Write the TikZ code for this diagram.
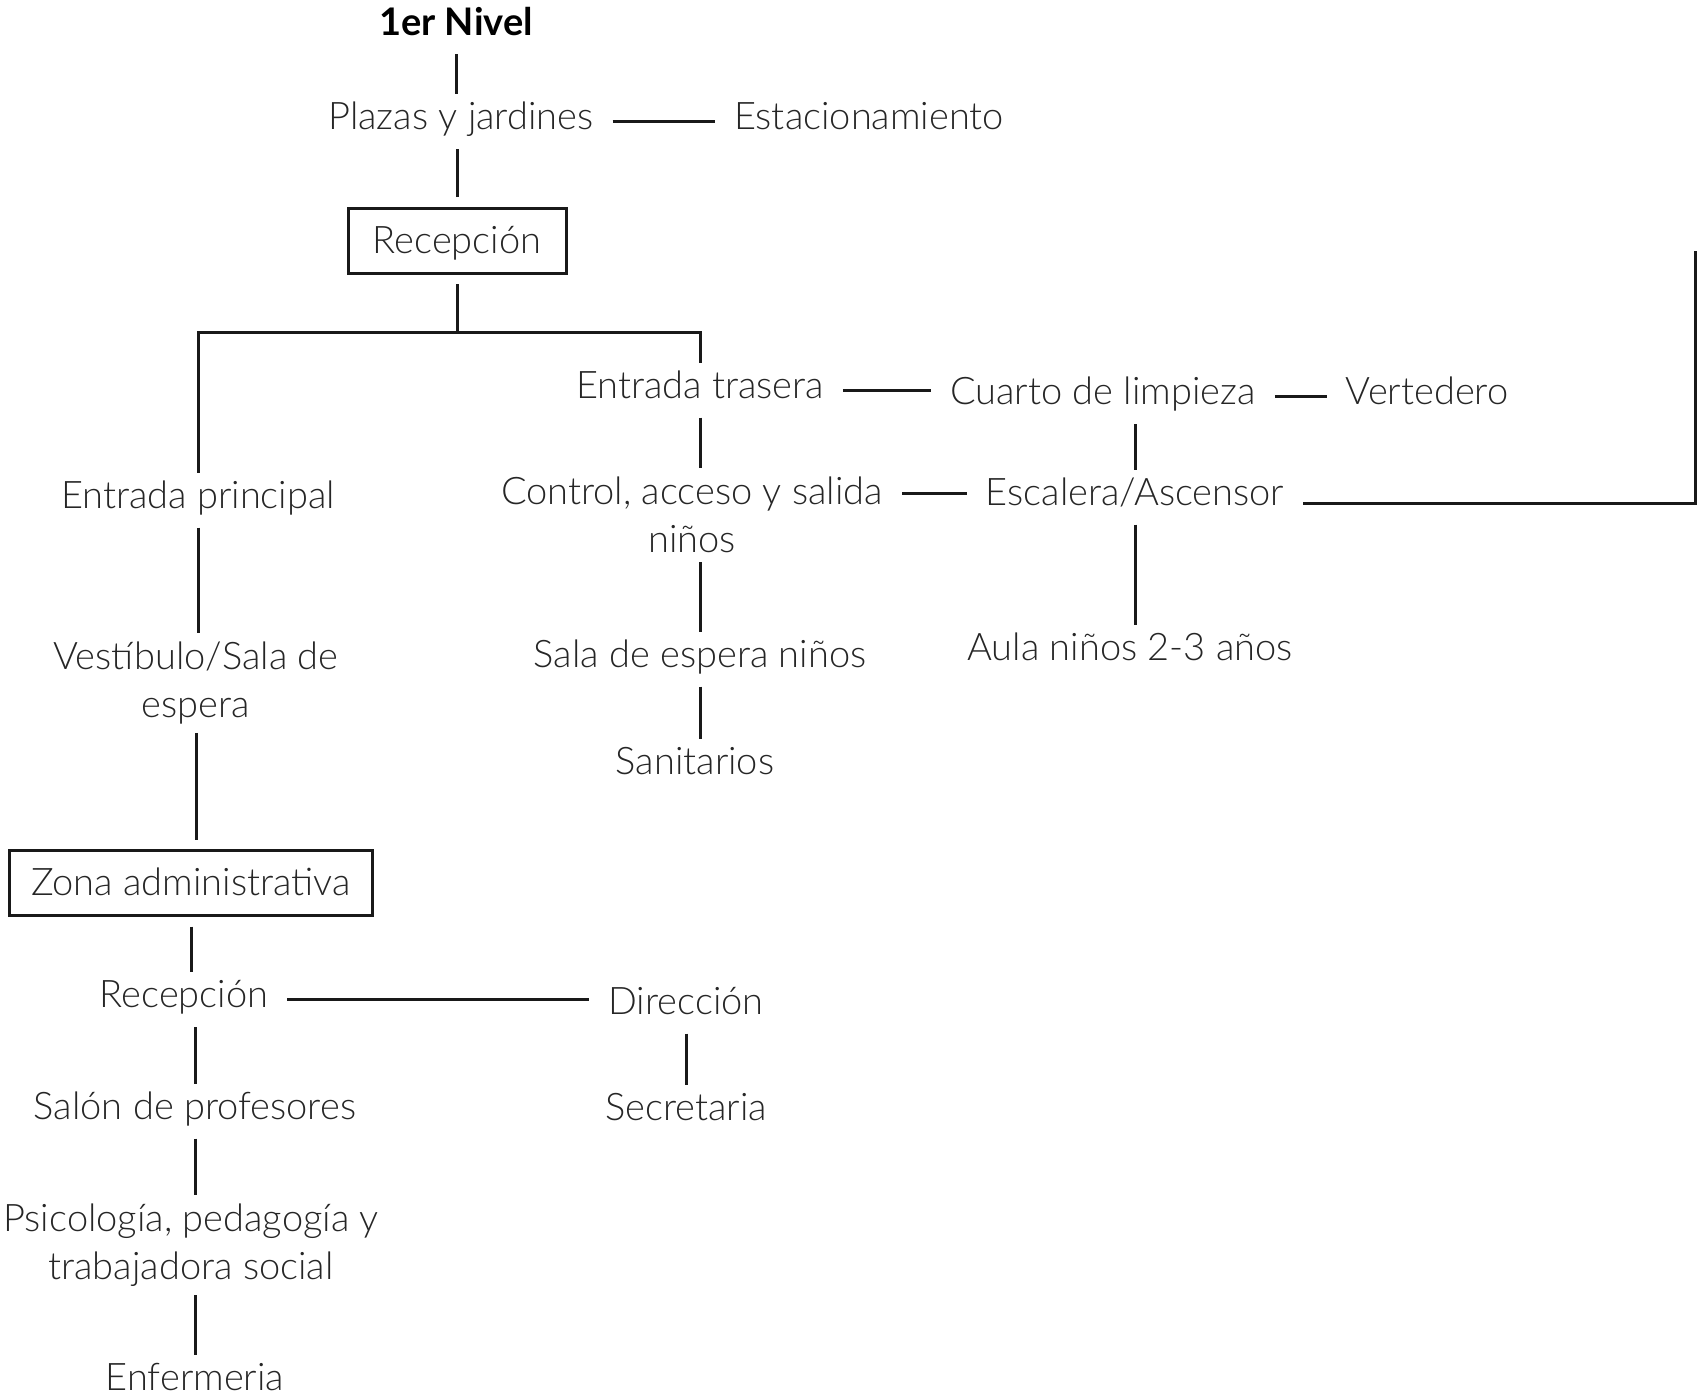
\documentclass[tikz,border=0pt]{standalone}
\usepackage{fontspec}
\setmainfont{Lato Light}
\newfontfamily\boldfont{Lato}
\begin{document}
\begin{tikzpicture}[x=1pt,y=-1pt,
  lbl/.style={inner sep=0pt, outer xsep=19pt, outer ysep=9pt,
    font=\fontsize{38}{47.5}\selectfont, text=black!85,
    text height=27pt, text depth=10pt},
  lbltwo/.style={inner sep=0pt, outer xsep=19pt, outer ysep=9pt,
    font=\fontsize{38}{47.5}\selectfont, text=black!85, align=center},
  boxed/.style={draw=black!90, line width=3pt, inner sep=0pt,
    minimum height=65pt, outer sep=11pt,
    font=\fontsize{38}{47.5}\selectfont, text=black!85,
    text height=31pt, text depth=6pt},
  conn/.style={draw=black!90, line width=3pt}]
\useasboundingbox (0,0) rectangle (1697,1397);

% nodes
\node[lbl, font=\boldfont\bfseries\fontsize{38}{47.5}\selectfont, text=black] (nivel) at (456,27) {1er Nivel};
\node[lbl] (plazas) at (461,121) {Plazas y jardines};
\node[lbl] (estac) at (869,121) {Estacionamiento};
\node[boxed, minimum width=218pt] (recep) at (457,240.5) {Recepción};
\coordinate (bus) at (456,332);
\node[lbl] (enttras) at (700,390) {Entrada trasera};
\node[lbl] (cuarto) at (1103,396) {Cuarto de limpieza};
\node[lbl] (verted) at (1427,396) {Vertedero};
\node[lbl] (entprin) at (198,500) {Entrada principal};
\node[lbltwo] (control) at (692,515) {Control, acceso y salida\\niños};
\node[lbl] (escal) at (1135,497) {Escalera/Ascensor};
\coordinate (rtop) at (1695,251);
\node[lbl] (aula) at (1130,652) {Aula niños 2-3 años};
\node[lbltwo] (vestib) at (196,683) {Vestíbulo/Sala de\\espera};
\node[lbl] (salaesp) at (700,659) {Sala de espera niños};
\node[lbl] (sanit) at (695,766) {Sanitarios};
\node[boxed, minimum width=363pt] (zona) at (191,883) {Zona administrativa};
\node[lbl] (recep2) at (184,999) {Recepción};
\node[lbl] (direc) at (686,1006) {Dirección};
\node[lbl] (secret) at (686,1112) {Secretaria};
\node[lbl] (salon) at (195,1111) {Salón de profesores};
\node[lbltwo] (psico) at (191,1245) {Psicología, pedagogía y\\trabajadora social};
\node[lbl] (enferm) at (195,1382) {Enfermeria};

% connectors
\draw[conn] (nivel.south) -- (nivel.south |- plazas.north);
\draw[conn] (plazas.east) -- (plazas.east -| estac.west);
\draw[conn] (recep.north) -- (recep.north |- plazas.south);
\draw[conn] (recep.south) -- (recep.south |- bus);
\draw[conn] (entprin.north) |- (bus) -| (enttras.north);
\draw[conn] (enttras.east) -- (enttras.east -| cuarto.west);
\draw[conn] (cuarto.east) -- (cuarto.east -| verted.west);
\draw[conn] (escal.north) -- (escal.north |- cuarto.south);
\draw[conn] (enttras.south) -- (enttras.south |- control.north);
\draw[conn] ([yshift=4pt]escal.west) -- ([yshift=4pt]escal.west -| control.east);
\draw[conn] ([yshift=-6pt]escal.east) -| (rtop);
\draw[conn] (escal.south) -- (escal.south |- aula.north);
\draw[conn] (salaesp.north) -- (salaesp.north |- control.south);
\draw[conn] (salaesp.south) -- (salaesp.south |- sanit.north);
\draw[conn] (entprin.south) -- (entprin.south |- vestib.north);
\draw[conn] (vestib.south) -- (vestib.south |- zona.north);
\draw[conn] (zona.south) -- (zona.south |- recep2.north);
\draw[conn] (recep2.east) -- (recep2.east -| direc.west);
\draw[conn] (direc.south) -- (direc.south |- secret.north);
\draw[conn] (salon.north) -- (salon.north |- recep2.south);
\draw[conn] (salon.south) -- (salon.south |- psico.north);
\draw[conn] (enferm.north) -- (enferm.north |- psico.south);
\end{tikzpicture}
\end{document}
